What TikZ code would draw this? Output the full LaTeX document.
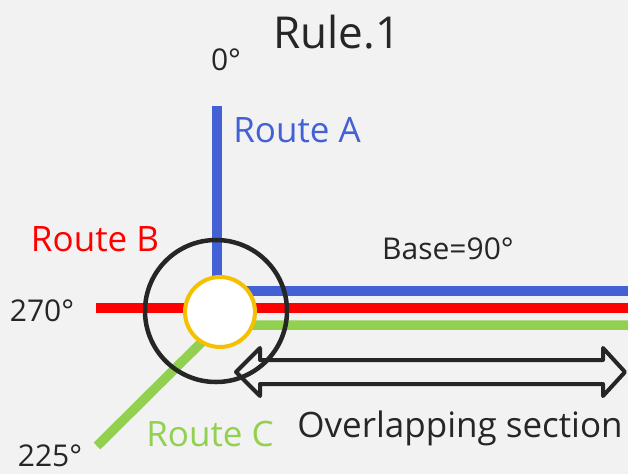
\documentclass[tikz,border=0pt]{standalone}
\usepackage{fontspec}
\setmainfont{Open Sans}
\usepackage{tikz}
\definecolor{bluerte}{RGB}{67,97,212}
\definecolor{redrte}{RGB}{255,0,0}
\definecolor{greenrte}{RGB}{146,208,80}
\definecolor{ringyel}{RGB}{245,192,0}
\definecolor{ink}{RGB}{38,38,38}
\definecolor{paper}{RGB}{242,242,242}
\tikzstyle{route}=[line width=9.5pt]
\tikzstyle{rtlabel}=[font=\fontsize{35}{40}\selectfont, inner sep=0pt, anchor=base]
\tikzstyle{deg}=[font=\fontsize{30}{34}\selectfont, text=ink, inner sep=0pt, anchor=base]
\tikzstyle{junction}=[circle, draw=ringyel, line width=4pt, fill=white, minimum width=70pt]
\tikzstyle{zone}=[circle, draw=ink, line width=4.5pt, minimum width=142pt]

\begin{document}
\begin{tikzpicture}[x=1pt, y=-1pt]
                    \fill[paper] (0,0) rectangle (628,474);
                    \useasboundingbox (0,0) rectangle (628,474);
                    % routes
                    \draw[route, bluerte]  (217,106) -- (217,291) -- (628,291);
                    \draw[route, redrte]   (96,308) -- (628,308);
                    \draw[route, greenrte] (97,446) -- (219,325) -- (628,325);
                    % crossing
                    \node[zone]     (zn) at (216,311) {};
                    \node[junction] (jc) at (220,312) {};
                    % overlap arrow
                    \draw[ink, line width=4pt, line join=round]
                        (236,372) -- (260,348) -- (260,360) -- (603,360) -- (603,348)
                        -- (625,372) -- (603,396) -- (603,384) -- (260,384) -- (260,396) -- cycle;
                    % texts
                    \node[rtlabel, text=ink, font=\fontsize{44}{50}\selectfont] (ttl) at (337,48) {Rule.1};
                    \node[deg] (d0)   at (226,70)  {0°};
                    \node[deg] (d90)  at (448,259) {Base=90°};
                    \node[deg] (d270) at (42,321)  {270°};
                    \node[deg] (d225) at (50,466)  {225°};
                    \node[rtlabel, text=bluerte]  (ra) at (297,142) {Route A};
                    \node[rtlabel, text=redrte]   (rb) at (95,251)  {Route B};
                    \node[rtlabel, text=greenrte] (rc) at (210,446) {Route C};
                    \node[rtlabel, text=ink] (ov) at (460,437) {Overlapping section};
                \end{tikzpicture}
\end{document}
